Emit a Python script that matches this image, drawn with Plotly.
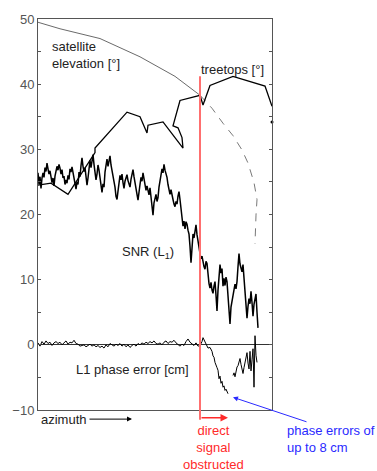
import plotly.graph_objects as go

# azimuth is in arbitrary units (0..234 across the plot)
AZ_MAX = 234
obstruct_az = 162

elev_az = [0, 22, 62, 102, 137, 162]
elev_val = [49.5, 48.5, 47.0, 44.2, 41.2, 38.3]

elev_dash_az = [162, 174, 185, 195, 204, 210, 216, 219, 218, 217]
elev_dash_val = [38.3, 36.3, 34.0, 32.1, 29.9, 27.9, 24.9, 22.3, 19.9, 15.5]

tree_az = [0, 13, 30, 57, 57, 89, 102, 109, 110, 125, 145, 144, 140, 135, 142, 160, 162, 165, 172, 195, 227, 234]
tree_val = [24.5, 24.8, 23.1, 29.5, 30.2, 35.7, 35.0, 32.5, 33.7, 34.2, 30.2, 31.8, 33.3, 33.6, 37.5, 38.15, 38.3, 36.8, 39.8, 41.2, 39.7, 36.6]
tree_end_az = [234]
tree_end_val = [34.2]

snr_val = [
    26.4, 24.6, 25.8, 24.0, 25.6, 26.4, 25.7, 27.2, 26.6, 27.9,
    27.0, 26.2, 26.7, 25.6, 24.9, 25.6, 24.4, 25.9, 26.5, 27.4,
    26.8, 27.7, 27.1, 26.2, 26.9, 25.6, 25.9, 24.6, 25.3, 24.8,
    26.0, 25.4, 27.0, 26.5, 27.3, 26.4, 25.1, 24.4, 23.9, 25.0,
    24.6, 26.5, 25.8, 27.5, 28.7, 27.4, 26.6, 27.2, 25.2, 24.5,
    25.6, 26.9, 28.3, 27.2, 28.6, 29.2, 27.7, 26.4, 25.3, 26.2,
    27.6, 26.8, 25.5, 24.3, 23.4, 24.7, 24.2, 26.5, 27.9, 28.5,
    27.4, 28.3, 29.0, 27.6, 26.8, 25.9, 24.7, 24.2, 22.8, 22.3,
    23.6, 24.9, 26.0, 25.3, 26.2, 24.9, 24.0, 25.1, 25.8, 26.1,
    25.2, 24.6, 24.2, 25.4, 26.3, 26.9, 25.8, 25.0, 24.5, 23.1,
    22.2, 23.8, 24.6, 25.7, 25.1, 26.4, 25.3, 24.6, 23.7, 24.4,
    23.8, 23.0, 24.1, 22.5, 21.6, 19.9, 21.8, 22.4, 23.1, 22.0,
    22.6, 24.2, 25.4, 26.5, 27.0, 26.4, 27.7, 26.8, 26.2, 25.7,
    24.6, 24.0, 23.1, 23.8, 22.6, 22.3, 21.6, 21.2, 22.0, 21.6,
    22.8, 23.5, 22.3, 20.6, 19.3, 18.2, 19.0, 17.8, 18.9, 18.5,
    17.6, 17.0, 15.1, 12.6, 14.8, 17.0, 16.4, 17.6, 18.4, 16.9,
    15.5, 15.0, 14.0, 13.2, 13.6, 12.5, 12.0, 11.6, 12.8, 12.5,
    10.6, 9.4, 8.7, 9.6, 8.4, 7.9, 9.0, 9.7, 7.6, 5.2,
    8.4, 10.7, 12.3, 11.0, 11.7, 9.0, 10.2, 9.1, 10.4, 9.7,
    7.1, 6.0, 3.2, 5.8, 6.7, 7.4, 8.2, 9.3, 8.6, 9.7,
    12.0, 14.0, 12.4, 11.6, 11.2, 12.3, 10.4, 8.5, 6.4, 4.1,
    5.9, 7.1, 6.3, 8.2, 6.5, 4.4, 6.2, 7.0, 7.8, 5.0,
    2.6,
]
snr_az = list(range(len(snr_val)))

phase_az = [
    0, 2, 4, 6, 8, 10, 12, 14, 16, 18, 20, 22, 24, 26, 28, 30, 32, 34, 36, 38,
    40, 42, 44, 46, 48, 50, 52, 54, 56, 58, 60, 62, 64, 66, 68, 70, 72, 74, 76, 78,
    80, 82, 84, 86, 88, 90, 92, 94, 96, 98, 100, 102, 104, 106, 108, 110, 112, 114, 116, 118,
    120, 122, 124, 126, 128, 130, 132, 134, 136, 138, 140, 142, 144, 146, 148, 150, 152, 154, 156, 158,
    160, 162, 164, 165, 166, 168, 170, 172, 174, 175, 176, 177, 178, 179, 180, 181, 182, 183, 184, 185,
    186, 187, 188, 189, 190, 192,
    195, 196, 197, 198, 199, 200, 201, 202, 203, 204, 205, 206, 207, 208, 209, 210, 211, 212, 213, 214,
    215, 216, 217, 218, 219,
]
phase_val = [
    0.3, -0.2, 0.5, 0.1, 0.6, 0.2, 0.4, -0.1, 0.3, 0.5, 0.2, 0.4, 0.0, 0.3, 0.6, 0.1, 0.4, 0.3, 0.7, 0.2,
    0.1, -0.2, -0.1, 0.0, -0.3, -0.1, 0.1, -0.2, 0.0, -0.3, -0.1, -0.4, -0.2, -0.5, 0.0, -0.3, 0.2, 0.0, -0.2, 0.1,
    -0.1, 0.2, -0.2, 0.1, -0.3, 0.0, -0.4, -0.1, 0.1, -0.2, 0.2, 0.0, 0.3, 0.1, 0.4, 0.2, 0.5, 0.3, 0.6, 0.2,
    0.1, 0.3, 0.0, 0.4, 0.6, 0.2, 0.5, 0.4, 0.7, 0.3, 0.0, -0.2, 0.1, -0.1, 0.5, 0.9, 0.4, 0.2, -0.1, 0.3,
    -0.2, -0.1, 0.5, 1.1, 0.8, 0.1, -0.5, -0.4, -1.0, -1.7, -1.9, -2.7, -3.0, -3.5, -3.9, -5.2, -4.8, -5.9, -5.6, -6.5,
    -6.3, -7.0, -6.8, -7.3, -7.5, None,
    -4.7, -4.3, -4.9, -4.0, -3.4, -3.2, -2.6, -2.1, -3.0, -3.8, -4.4, -3.5, -2.6, -1.7, -1.2, -2.8, -3.7, -1.0, -4.0, -2.3,
    -0.6, -6.5, 1.4, -1.6, -2.7,
]

y_tickvals = list(range(-10, 55, 5))
y_ticktext = ["\u221210", "", "0", "", "10", "", "20", "", "30", "", "40", "", "50"]

FONT = "Liberation Sans"
ymin, ymax = -10, 50


def ypaper(v):
    return (v - ymin) / (ymax - ymin)


def xpaper(a):
    return a / AZ_MAX


fig = go.Figure()
fig.add_trace(go.Scatter(x=elev_az, y=elev_val, mode="lines",
                         line=dict(color="#444", width=0.8), hoverinfo="skip"))
fig.add_trace(go.Scatter(x=elev_dash_az, y=elev_dash_val, mode="lines",
                         line=dict(color="#555", width=0.8, dash="8px,7px"), hoverinfo="skip"))
fig.add_trace(go.Scatter(x=tree_az, y=tree_val, mode="lines",
                         line=dict(color="black", width=1.3), hoverinfo="skip"))
fig.add_trace(go.Scatter(x=tree_end_az, y=tree_end_val, mode="markers",
                         marker=dict(color="black", size=3), cliponaxis=False, hoverinfo="skip"))
fig.add_trace(go.Scatter(x=snr_az, y=snr_val, mode="lines",
                         line=dict(color="black", width=1.5), hoverinfo="skip"))
fig.add_trace(go.Scatter(x=phase_az, y=phase_val, mode="lines", connectgaps=False,
                         line=dict(color="black", width=1), hoverinfo="skip"))

fig.add_shape(type="line", xref="x", yref="paper",
              x0=obstruct_az, x1=obstruct_az, y0=ypaper(-11.5), y1=ypaper(41.2),
              line=dict(color="#ff6f6f", width=2), layer="above")

ann_font = dict(family=FONT, size=13, color="#222")
fig.add_annotation(x=12, y=44.4, xref="x", yref="y", text="satellite<br>elevation [\u00b0]",
                   showarrow=False, xanchor="left", yanchor="middle", align="left", font=ann_font)
fig.add_annotation(x=194, y=42.3, xref="x", yref="y", text="treetops [\u00b0]",
                   showarrow=False, font=ann_font)
fig.add_annotation(x=110, y=14.1, xref="x", yref="y", text="SNR (L<sub>1</sub>)",
                   showarrow=False, font=ann_font)
fig.add_annotation(x=94, y=-3.8, xref="x", yref="y", text="L1 phase error [cm]",
                   showarrow=False, font=ann_font)
fig.add_annotation(x=xpaper(1), y=ypaper(-11.4), xref="paper", yref="paper", text="azimuth",
                   showarrow=False, xanchor="left", yanchor="middle", font=ann_font)
fig.add_annotation(x=94, y=ypaper(-11.4), xref="x", yref="paper", text="", ax=-44, ay=0,
                   showarrow=True, arrowhead=2, arrowsize=1,
                   arrowwidth=1, arrowcolor="black", standoff=0, startstandoff=0)
fig.add_annotation(x=190, y=ypaper(-11.2), xref="x", yref="paper", text="", ax=-28, ay=0,
                   showarrow=True, arrowhead=2, arrowsize=1,
                   arrowwidth=1.5, arrowcolor="#ff2a2a", standoff=0, startstandoff=0)
fig.add_annotation(x=xpaper(175), y=ypaper(-15.8), xref="paper", yref="paper",
                   text="direct<br>signal<br>obstructed", xanchor="center", yanchor="middle",
                   showarrow=False, font=dict(family=FONT, size=13, color="#ff2a2a"))
fig.add_annotation(x=xpaper(247), y=ypaper(-14.5), xref="paper", yref="paper",
                   text="phase errors of<br>up to 8 cm",
                   showarrow=False, xanchor="left", yanchor="middle", align="left",
                   font=dict(family=FONT, size=13, color="#2a2aff"))
fig.add_annotation(x=195, y=-8.05, xref="x", yref="y", text="", ax=75, ay=25,
                   showarrow=True, arrowhead=2, arrowsize=1, arrowwidth=1,
                   arrowcolor="#2a2aff", standoff=0, startstandoff=0)

fig.update_layout(
    width=377, height=471,
    margin=dict(l=38, r=105, t=15, b=61),
    plot_bgcolor="white", paper_bgcolor="white",
    showlegend=False,
    font=dict(family=FONT),
    xaxis=dict(range=[0, AZ_MAX], showgrid=False, zeroline=False, showticklabels=False,
               ticks="", showline=True, linecolor="#555", linewidth=1, mirror=True),
    yaxis=dict(range=[ymin, ymax], showgrid=False, zeroline=True, zerolinecolor="#333",
               zerolinewidth=1, tickmode="array", tickvals=y_tickvals, ticktext=y_ticktext,
               ticks="inside", ticklen=3, tickcolor="#555", showline=True, linecolor="#555",
               linewidth=1, mirror="ticks",
               tickfont=dict(family=FONT, size=13, color="#555")),
)

fig.write_html("out.html")
